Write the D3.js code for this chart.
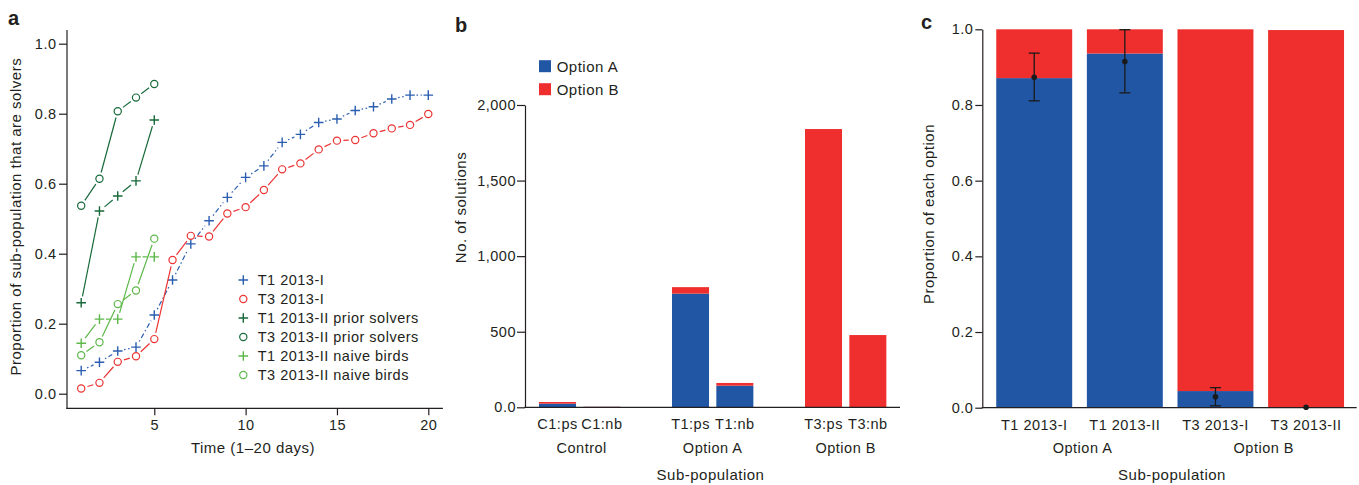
<!DOCTYPE html>
<html>
<head>
<meta charset="utf-8">
<script src="https://cdn.jsdelivr.net/npm/d3@7/dist/d3.min.js"></script>
<style>
  html, body { margin: 0; padding: 0; background: #fff; }
  svg { display: block; }
  text { font-family: "Liberation Sans", Arial, Helvetica, sans-serif; fill: #231f20; }
</style>
</head>
<body>
<svg id="chart" width="1359" height="485"></svg>
<script>
// ---------------- DATA ----------------
// Panel a
const daysFull = [1,2,3,4,5,6,7,8,9,10,11,12,13,14,15,16,17,18,19,20];
const daysShort = [1,2,3,4,5];
const t1_2013I = [0.066,0.090,0.122,0.133,0.225,0.325,0.428,0.494,0.561,0.618,0.651,0.718,0.741,0.775,0.785,0.809,0.820,0.842,0.853,0.853];
const t3_2013I = [0.015,0.031,0.091,0.107,0.156,0.382,0.451,0.449,0.515,0.533,0.582,0.641,0.658,0.698,0.723,0.725,0.744,0.758,0.768,0.799];
const t1_2013II_prior = [0.260,0.522,0.565,0.608,0.782];
const t3_2013II_prior = [0.537,0.614,0.807,0.846,0.885];
const t1_2013II_naive = [0.144,0.213,0.213,0.391,0.391];
const t3_2013II_naive = [0.110,0.147,0.256,0.295,0.443];
const aLegend = ["T1 2013-I","T3 2013-I","T1 2013-II prior solvers","T3 2013-II prior solvers","T1 2013-II naive birds","T3 2013-II naive birds"];
const aYTicks = [0,0.2,0.4,0.6,0.8,1.0];
const aXTicks = [5,10,15,20];

// Panel b
const bCategories = ["C1:ps","C1:nb","T1:ps","T1:nb","T3:ps","T3:nb"];
const bSlots = ["C1:ps","C1:nb","gap1","T1:ps","T1:nb","gap2","T3:ps","T3:nb","gap3"];
const bOptionA = [24, 3, 752, 143, 0, 0];
const bOptionB = [11, 1, 43, 18, 1841, 478];
const bGroups = ["Control","Option A","Option B"];
const bYTicks = [0,500,1000,1500,2000];
const bYTickLabels = ["0.0","500","1,000","1,500","2,000"];

// Panel c
const cCategories = ["T1 2013-I","T1 2013-II","T3 2013-I","T3 2013-II"];
const cOptionA = [0.871, 0.936, 0.044, 0.0];
const cOptionB = [0.129, 0.064, 0.956, 0.998];
const cMean = [0.873, 0.915, 0.029, 0.001];
const cLow = [0.811, 0.832, 0.005, 0.001];
const cHigh = [0.937, 0.999, 0.053, 0.001];
const cGroups = ["Option A","Option B"];
const cYTicks = [0,0.2,0.4,0.6,0.8,1.0];

// ---------------- STYLE ----------------
const INK = "#231f20";
const BLUE = "#2b5eb1", RED = "#ec3232", DKGREEN = "#17693a", LTGREEN = "#5cb848";
const BAR_BLUE = "#2156a5", BAR_RED = "#ee2f2d";
const FS = 14.5, LS = "0.5px";

const svg = d3.select("#chart");

function styleAxis(g) {
  g.selectAll("path, line").attr("stroke", INK).attr("stroke-width", 1.2);
  g.selectAll("text").attr("font-size", FS).attr("letter-spacing", LS)
    .attr("fill", INK).attr("font-family", "Liberation Sans, Arial, sans-serif");
}
function label(x, y, txt, opts = {}) {
  const t = svg.append("text").attr("x", x).attr("y", y).text(txt)
    .attr("font-size", opts.size || FS).attr("letter-spacing", opts.ls || LS)
    .attr("text-anchor", opts.anchor || "middle");
  if (opts.bold) t.attr("font-weight", "bold");
  if (opts.rotate) t.attr("x", 0).attr("y", 0).attr("transform", `translate(${x},${y}) rotate(-90)`);
  return t;
}

// ---------------- PANEL A ----------------
{
  const x = d3.scaleLinear().domain([1, 20]).range([81.2, 428.3]);
  const y = d3.scaleLinear().domain([0, 1]).range([393.7, 43.7]);
  const g = svg.append("g");

  // axes
  const yAx = g.append("g").attr("transform", "translate(67,0)")
    .call(d3.axisLeft(y).tickValues(aYTicks).tickFormat(d3.format(".1f")).tickSize(8).tickPadding(2.5));
  yAx.select(".domain").remove();
  styleAxis(yAx);
  const xAx = g.append("g").attr("transform", "translate(0,408.3)")
    .call(d3.axisBottom(x).tickValues(aXTicks).tickSize(7).tickPadding(4.5));
  xAx.select(".domain").remove();
  styleAxis(xAx);
  g.append("line").attr("x1", 67).attr("x2", 67).attr("y1", y(1.039)).attr("y2", 408.9)
    .attr("stroke", INK).attr("stroke-width", 1.2);
  g.append("line").attr("x1", 66.4).attr("x2", x(20.8)).attr("y1", 408.3).attr("y2", 408.3)
    .attr("stroke", INK).attr("stroke-width", 1.2);

  const series = [
    { xs: daysFull,  ys: t1_2013I,        color: BLUE,    marker: "plus",   dash: "1.5,2.6,5,2.6" },
    { xs: daysFull,  ys: t3_2013I,        color: RED,     marker: "circle", dash: null },
    { xs: daysShort, ys: t1_2013II_prior, color: DKGREEN, marker: "plus",   dash: null },
    { xs: daysShort, ys: t3_2013II_prior, color: DKGREEN, marker: "circle", dash: null },
    { xs: daysShort, ys: t1_2013II_naive, color: LTGREEN, marker: "plus",   dash: null },
    { xs: daysShort, ys: t3_2013II_naive, color: LTGREEN, marker: "circle", dash: null }
  ];
  const GAP = 6.5;

  function drawMarker(sel, cx, cy, type, color) {
    if (type === "plus") {
      const h = 4.8;
      sel.append("path").attr("d", `M${cx-h},${cy}H${cx+h}M${cx},${cy-h}V${cy+h}`)
        .attr("stroke", color).attr("stroke-width", 1.4).attr("fill", "none");
    } else {
      sel.append("circle").attr("cx", cx).attr("cy", cy).attr("r", 3.6)
        .attr("stroke", color).attr("stroke-width", 1.2).attr("fill", "none");
    }
  }

  series.forEach(s => {
    const pts = s.xs.map((d, i) => [x(d), y(s.ys[i])]);
    for (let i = 0; i < pts.length - 1; i++) {
      const [x1, y1] = pts[i], [x2, y2] = pts[i + 1];
      const dx = x2 - x1, dy = y2 - y1, L = Math.hypot(dx, dy);
      if (L <= 2 * GAP + 0.5) continue;
      const ux = dx / L, uy = dy / L;
      const seg = g.append("line")
        .attr("x1", x1 + ux * GAP).attr("y1", y1 + uy * GAP)
        .attr("x2", x2 - ux * GAP).attr("y2", y2 - uy * GAP)
        .attr("stroke", s.color).attr("stroke-width", 1.2);
      if (s.dash) seg.attr("stroke-dasharray", s.dash);
    }
    pts.forEach(p => drawMarker(g, p[0], p[1], s.marker, s.color));
  });

  // legend
  const legY = d3.scaleLinear().domain([0, 5]).range([280, 375]);
  aLegend.forEach((name, i) => {
    const cy = legY(i);
    drawMarker(g, 243.3, cy, series[i].marker, series[i].color);
    label(257.7, cy + 5.2, name, { anchor: "start" });
  });

  label(21, 216.7, "Proportion of sub-population that are solvers", { rotate: true, size: 15 });
  label(253, 452.5, "Time (1\u201320 days)", { size: 15 });
  label(8, 25, "a", { anchor: "start", bold: true, size: 20, ls: "0px" });
}

// ---------------- PANEL B ----------------
{
  const x = d3.scaleBand().domain(bSlots).range([525, 944.7]).paddingInner(0.165).paddingOuter(0.316);
  const y = d3.scaleLinear().domain([0, 2000]).range([407.3, 105]);
  const g = svg.append("g");

  bCategories.forEach((c, i) => {
    g.append("rect").attr("x", x(c)).attr("width", x.bandwidth())
      .attr("y", y(bOptionA[i])).attr("height", y(0) - y(bOptionA[i])).attr("fill", BAR_BLUE);
    g.append("rect").attr("x", x(c)).attr("width", x.bandwidth())
      .attr("y", y(bOptionA[i] + bOptionB[i])).attr("height", y(bOptionA[i]) - y(bOptionA[i] + bOptionB[i]))
      .attr("fill", BAR_RED);
  });

  const yAx = g.append("g").attr("transform", "translate(525,0)")
    .call(d3.axisLeft(y).tickValues(bYTicks).tickFormat((d, i) => bYTickLabels[i]).tickSize(8).tickSizeOuter(0).tickPadding(1));
  styleAxis(yAx);
  const xAx = g.append("g").attr("transform", "translate(0,407.3)")
    .call(d3.axisBottom(x).tickValues(bCategories).tickSize(0).tickPadding(11.5));
  xAx.select(".domain").remove();
  styleAxis(xAx);
  g.append("line").attr("x1", 524.4).attr("x2", 900).attr("y1", 407.3).attr("y2", 407.3)
    .attr("stroke", INK).attr("stroke-width", 1.2);

  // group labels
  const pairs = [["C1:ps","C1:nb"],["T1:ps","T1:nb"],["T3:ps","T3:nb"]];
  pairs.forEach((p, i) => {
    const cx = (x(p[0]) + x(p[1]) + x.bandwidth()) / 2;
    label(cx + (i === 0 ? 2 : 0), 453, bGroups[i]);
  });
  label(710.5, 479.5, "Sub-population", { size: 15 });
  label(466, 207.5, "No. of solutions", { rotate: true, size: 15 });

  // legend
  const leg = [["Option A", BAR_BLUE], ["Option B", BAR_RED]];
  leg.forEach((l, i) => {
    const cy = 66.2 + i * 23;
    g.append("rect").attr("x", 539).attr("y", cy - 6).attr("width", 12).attr("height", 12).attr("fill", l[1]);
    label(556.7, cy + 5.3, l[0], { anchor: "start", size: 15 });
  });
  label(455, 32, "b", { anchor: "start", bold: true, size: 20, ls: "0px" });
}

// ---------------- PANEL C ----------------
{
  const x = d3.scaleBand().domain(cCategories).range([982.3, 1358]).paddingInner(0.162).paddingOuter(0.154);
  const y = d3.scaleLinear().domain([0, 1]).range([407.7, 29.3]);
  const g = svg.append("g");

  cCategories.forEach((c, i) => {
    g.append("rect").attr("x", x(c)).attr("width", x.bandwidth())
      .attr("y", y(cOptionA[i])).attr("height", y(0) - y(cOptionA[i])).attr("fill", BAR_BLUE);
    g.append("rect").attr("x", x(c)).attr("width", x.bandwidth())
      .attr("y", y(cOptionA[i] + cOptionB[i])).attr("height", y(cOptionA[i]) - y(cOptionA[i] + cOptionB[i]))
      .attr("fill", BAR_RED);
  });

  const yAx = g.append("g").attr("transform", "translate(982.3,0)")
    .call(d3.axisLeft(y).tickValues(cYTicks).tickFormat(d3.format(".1f")).tickSize(7).tickSizeOuter(0).tickPadding(2));
  styleAxis(yAx);
  const xAx = g.append("g").attr("transform", "translate(0,407.7)")
    .call(d3.axisBottom(x).tickSize(0).tickPadding(12.3));
  xAx.select(".domain").remove();
  styleAxis(xAx);
  g.append("line").attr("x1", 981.7).attr("x2", 1356.7).attr("y1", 407.7).attr("y2", 407.7)
    .attr("stroke", INK).attr("stroke-width", 1.2);

  // error bars
  cCategories.forEach((c, i) => {
    const cx = x(c) + x.bandwidth() / 2;
    if (cHigh[i] - cLow[i] > 0.002) {
      g.append("line").attr("x1", cx).attr("x2", cx).attr("y1", y(cLow[i])).attr("y2", y(cHigh[i]))
        .attr("stroke", "#1a1a1a").attr("stroke-width", 1.3);
      [cLow[i], cHigh[i]].forEach(v => {
        g.append("line").attr("x1", cx - 5.5).attr("x2", cx + 5.5).attr("y1", y(v)).attr("y2", y(v))
          .attr("stroke", "#1a1a1a").attr("stroke-width", 1.3);
      });
    }
    g.append("circle").attr("cx", cx).attr("cy", y(cMean[i])).attr("r", 2.8).attr("fill", "#1a1a1a");
  });

  const groupPairs = [[0, 1], [2, 3]];
  groupPairs.forEach((p, i) => {
    const cx = (x(cCategories[p[0]]) + x(cCategories[p[1]]) + x.bandwidth()) / 2;
    label(cx + 3, 453, cGroups[i]);
  });
  label(1172, 479.5, "Sub-population", { size: 15 });
  label(934, 214, "Proportion of each option", { rotate: true, size: 15 });
  label(921, 29.3, "c", { anchor: "start", bold: true, size: 20, ls: "0px" });
}
</script>
</body>
</html>
